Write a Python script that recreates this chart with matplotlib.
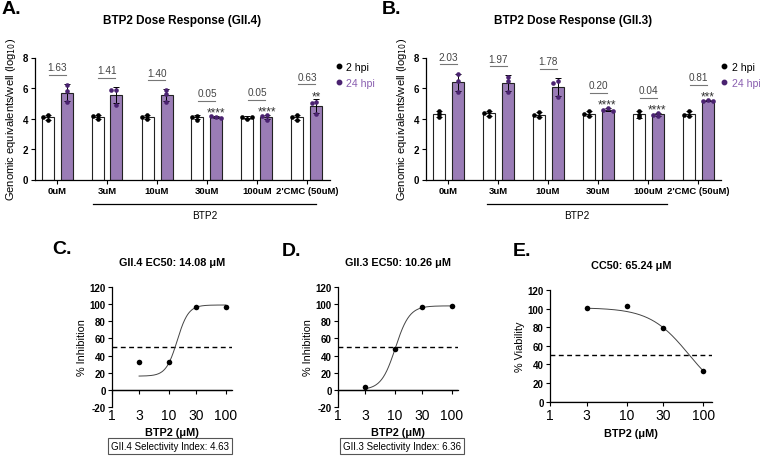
import numpy as np
import matplotlib
matplotlib.use('Agg')
import matplotlib.pyplot as plt
from matplotlib.lines import Line2D
from matplotlib.ticker import NullLocator

plt.rcParams['font.family'] = ['Liberation Sans', 'DejaVu Sans']
plt.rcParams['axes.unicode_minus'] = False

# ---------------- data ----------------
categories = ["0uM", "3uM", "10uM", "30uM", "100uM", "2'CMC (50uM)"]

gii4_2hpi = [[4.20, 3.90, 4.10], [4.20, 3.97, 4.15], [4.20, 3.95, 4.08],
             [4.19, 3.93, 4.08], [3.97, 4.08, 4.12], [4.26, 3.93, 4.10]]
gii4_24hpi = [[6.20, 5.80, 5.10], [5.85, 5.85, 4.90], [5.85, 5.62, 5.08],
              [4.12, 4.15, 4.05], [4.20, 3.93, 4.15], [5.08, 5.04, 4.30]]
gii4_fold = ["1.63", "1.41", "1.40", "0.05", "0.05", "0.63"]
gii4_sig = ["", "", "", "****", "****", "**"]

gii3_2hpi = [[4.08, 4.52, 4.30], [4.52, 4.19, 4.35], [4.45, 4.08, 4.24],
             [4.52, 4.15, 4.30], [4.52, 4.08, 4.26], [4.52, 4.19, 4.26]]
gii3_24hpi = [[6.89, 6.47, 5.74], [6.75, 6.45, 5.75], [6.45, 6.36, 5.40],
              [4.68, 4.57, 4.52], [4.37, 4.19, 4.24], [5.20, 5.14, 5.14]]
gii3_fold = ["2.03", "1.97", "1.78", "0.20", "0.04", "0.81"]
gii3_sig = ["", "", "", "****", "****", "***"]

conc = [3, 10, 30, 100]
conc_ticks = [1, 3, 10, 30, 100]
gii4_inhibition = [32, 32, 97, 97]
gii3_inhibition = [3, 48, 97, 98]
viability = [101, 103, 79, 33]

gii4_ec50 = 14.08
gii3_ec50 = 10.26
cc50 = 65.24
gii4_fit = (16, 99, 4.4)     # bottom, top, hill
gii3_fit = (0, 98, 3.5)
via_fit = (0, 101, 1.69)

gii4_si = "GII.4 Selectivity Index: 4.63"
gii3_si = "GII.3 Selectivity Index: 6.36"

# ---------------- style ----------------
W, H = 760, 464
PURPLE = '#9a7cb6'
DPURPLE = '#4a2270'
LPURPLE = '#8a5fb0'

fig = plt.figure(figsize=(7.6, 4.64), dpi=100)


def fax(l, t, r, b):
    return fig.add_axes([l / W, 1 - b / H, (r - l) / W, (b - t) / H])


def place_x(vals, base, step=0.1, tol=0.17):
    placed = []
    xs = []
    for v in vals:
        for off in (0, -step, step, -2 * step, 2 * step):
            if all(abs(v - pv) > tol or abs(off - po) > 0.05 for pv, po in placed):
                break
        placed.append((v, off))
        xs.append(base + off)
    return xs


def bar_panel(ax, d2, d24, fold, sig, title, bracket, blabel_x, leg_x):
    n = len(categories)
    off, bw = 0.19, 0.24
    for i in range(n):
        for vals, sgn, fc, pc in ((d2[i], -1, 'white', 'black'),
                                  (d24[i], 1, PURPLE, DPURPLE)):
            x = i + sgn * off
            m = np.mean(vals)
            sd = np.std(vals, ddof=1)
            ax.bar(x, m, width=bw, color=fc, edgecolor='#222222', lw=0.8, zorder=1)
            ax.errorbar(x, m, yerr=sd, fmt='none', ecolor='black', elinewidth=0.7,
                        capsize=2.2, capthick=0.7, zorder=2)
            ax.scatter(place_x(vals, x), vals, s=11, color=pc, zorder=3, lw=0)
        v = d24[i]
        top = max(max(v), np.mean(v) + np.std(v, ddof=1))
        xc = i + 0.0
        if sig[i]:
            ax.text(i + off, top + 0.22, sig[i], ha='center', va='center',
                    fontsize=8.5, color='#333333')
            ly = top + 1.0
        else:
            ly = top + 0.6
        ax.plot([xc - 0.17, xc + 0.17], [ly, ly], color='#777777', lw=0.8)
        ax.text(xc, ly + 0.5, fold[i], ha='center', va='center', fontsize=7.2,
                color='#444444')
    ax.set_xlim(-0.44, 5.46)
    ax.set_ylim(0, 8)
    ax.set_yticks([0, 2, 4, 6, 8])
    ax.set_xticks(range(n))
    ax.set_xticklabels(categories, fontsize=6.8, fontweight='bold')
    for t in ax.get_yticklabels():
        t.set_fontweight('bold')
        t.set_fontsize(7)
    ax.tick_params(length=3, width=0.8, pad=2)
    for s in ('top', 'right'):
        ax.spines[s].set_visible(False)
    for s in ('left', 'bottom'):
        ax.spines[s].set_linewidth(0.9)
    ax.set_ylabel('Genomic equivalents/well (log$_{10}$)', fontsize=8, labelpad=3)
    ax.set_title(title, fontsize=8.5, fontweight='bold', pad=25)
    tr = ax.get_xaxis_transform()
    ax.plot(bracket, [-0.2, -0.2], color='black', lw=0.9, transform=tr, clip_on=False)
    ax.text(blabel_x, -0.295, 'BTP2', transform=tr, ha='center', va='center',
            fontsize=7.2)
    handles = [Line2D([], [], marker='o', ls='none', color='black', ms=3.2),
               Line2D([], [], marker='o', ls='none', color=DPURPLE, ms=3.2)]
    ax.legend(handles, ['2 hpi', '24 hpi'], loc='upper left',
              bbox_to_anchor=(leg_x, 1.0), frameon=False, fontsize=7.6,
              handletextpad=0.1, labelspacing=0.55, handlelength=1.2,
              borderaxespad=0, labelcolor=['black', LPURPLE])


axA = fax(35, 58.5, 330, 180.5)
bar_panel(axA, gii4_2hpi, gii4_24hpi, gii4_fold, gii4_sig,
          'BTP2 Dose Response (GII.4)', [0.72, 5.18], 2.95, 0.995)
axB = fax(426, 58.5, 721, 180.5)
bar_panel(axB, gii3_2hpi, gii3_24hpi, gii3_fold, gii3_sig,
          'BTP2 Dose Response (GII.3)', [0.77, 4.37], 2.57, 0.975)


def curve_up(x, p, ec):
    b, t, h = p
    return b + (t - b) / (1 + (ec / x) ** h)


def curve_down(x, p, ec):
    b, t, h = p
    return b + (t - b) / (1 + (x / ec) ** h)


def dose_panel(ax, yvals, curve, ylabel, title, ylim, yticks, label_pad):
    xx = np.logspace(np.log10(conc[0]), np.log10(conc[-1]), 200)
    ax.set_xscale('log')
    ax.set_xlim(1, 130)
    ax.set_ylim(*ylim)
    ax.axhline(50, color='black', lw=1.0, ls=(0, (3.5, 2.5)), zorder=1)
    ax.axhline(0, color='black', lw=0.9, zorder=1)
    ax.plot(xx, curve(xx), color='#444444', lw=0.7, zorder=2)
    ax.scatter(conc, yvals, s=16, color='black', zorder=3, lw=0)
    ax.xaxis.set_minor_locator(NullLocator())
    ax.set_xticks(conc_ticks)
    ax.set_xticklabels([str(c) for c in conc_ticks])
    ax.set_yticks(yticks)
    for t in ax.get_xticklabels() + ax.get_yticklabels():
        t.set_fontweight('bold')
        t.set_fontsize(7)
    ax.tick_params(axis='y', length=3, width=0.8, pad=1.5)
    ax.tick_params(axis='x', length=3, width=0.8, pad=label_pad)
    for s in ('top', 'right'):
        ax.spines[s].set_visible(False)
    ax.spines['bottom'].set_position(('data', 0))
    for s in ('left', 'bottom'):
        ax.spines[s].set_linewidth(0.9)
    ax.set_ylabel(ylabel, fontsize=7.8, labelpad=2)
    ax.set_xlabel('BTP2 (μM)', fontsize=7.8, fontweight='bold', labelpad=4)
    ax.set_title(title, fontsize=7.8, fontweight='bold', pad=16)


axC = fax(112, 288, 232, 408)
dose_panel(axC, gii4_inhibition, lambda x: curve_up(x, gii4_fit, gii4_ec50),
           '% Inhibition', f'GII.4 EC50: {gii4_ec50:.2f} μM', (-20, 120),
           [-20, 0, 20, 40, 60, 80, 100, 120], 10)
axD = fax(338, 288, 458, 408)
dose_panel(axD, gii3_inhibition, lambda x: curve_up(x, gii3_fit, gii3_ec50),
           '% Inhibition', f'GII.3 EC50: {gii3_ec50:.2f} μM', (-20, 120),
           [-20, 0, 20, 40, 60, 80, 100, 120], 10)
axE = fax(550, 291, 712, 402.7)
dose_panel(axE, viability, lambda x: curve_down(x, via_fit, cc50),
           '% Viability', f'CC50: {cc50:.2f} μM', (0, 120),
           [0, 20, 40, 60, 80, 100, 120], 1.5)

box = dict(boxstyle='square,pad=0.35', fc='white', ec='#555555', lw=0.8)
fig.text(170 / W, 1 - 447 / H, gii4_si, ha='center', va='center', fontsize=7, bbox=box)
fig.text(402 / W, 1 - 447 / H, gii3_si, ha='center', va='center', fontsize=7, bbox=box)

for lab, x, y in (('A.', 2, 10), ('B.', 382, 10), ('C.', 52, 250),
                  ('D.', 282, 252), ('E.', 513, 252)):
    fig.text(x / W, 1 - y / H, lab, fontsize=14, fontweight='bold', va='center')

fig.savefig('out.png', dpi=100)
